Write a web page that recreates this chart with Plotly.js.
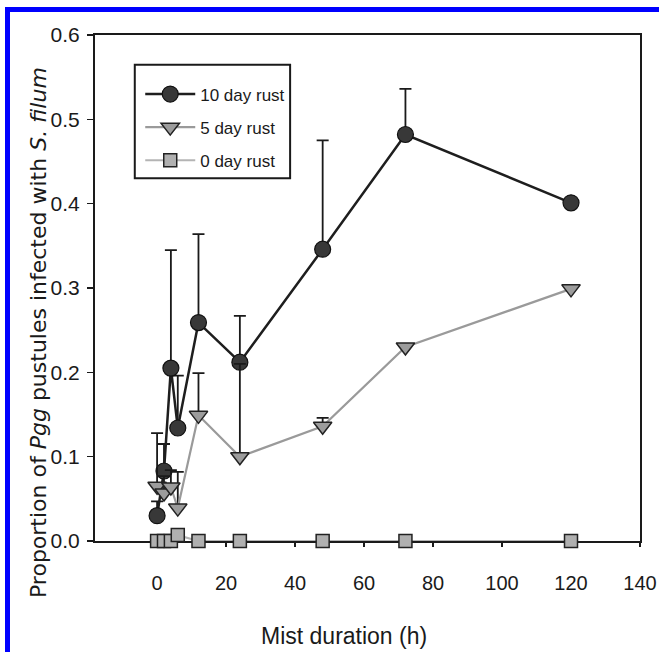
<!DOCTYPE html>
<html>
<head>
<meta charset="utf-8">
<script src="https://cdn.plot.ly/plotly-3.0.1.min.js"></script>
<style>
  html, body { margin: 0; padding: 0; background: #ffffff; }
  #wrap { position: relative; width: 659px; height: 652px; overflow: hidden; }
  #chart { position: absolute; left: 0; top: 0; width: 659px; height: 652px; }
  #frame { position: absolute; left: 5px; top: 7px; width: 654px; height: 645px;
           box-sizing: border-box; border-top: 5px solid #0000ff; border-left: 5px solid #0000ff;
           pointer-events: none; }
</style>
</head>
<body>
<div id="wrap">
  <div id="chart"></div>
  <div id="frame"></div>
</div>
<script>
// Mist duration (h)
var hours = [0, 2, 4, 6, 12, 24, 48, 72, 120];

// 10 day rust
var rust10 = [0.030, 0.083, 0.205, 0.134, 0.259, 0.212, 0.346, 0.482, 0.401];
var rust10Err = [0.017, 0.032, 0.140, 0.062, 0.105, 0.055, 0.129, 0.054, 0.000];

// 5 day rust
var rust5 = [0.065, 0.057, 0.064, 0.039, 0.149, 0.100, 0.136, 0.230, 0.299];
var rust5Err = [0.063, 0.020, 0.020, 0.043, 0.050, 0.110, 0.010, 0.000, 0.000];

// 0 day rust
var rust0 = [0.000, 0.000, 0.000, 0.007, 0.000, 0.000, 0.000, 0.000, 0.000];

var seriesNames = ["10 day rust", "5 day rust", "0 day rust"];
var xTicks = [0, 20, 40, 60, 80, 100, 120, 140];
var yTicks = [0, 0.1, 0.2, 0.3, 0.4, 0.5, 0.6];
var xTitle = "Mist duration (h)";
var yTitle = "Proportion of <i>Pgg</i> pustules infected with <i>S. filum</i>";

function zeros(n) { var a = []; for (var i = 0; i < n; i++) a.push(0); return a; }

var narrow = "Liberation Sans Narrow, Arial Narrow, Liberation Sans, Arial, sans-serif";

var traces = [
  {
    x: hours, y: rust10, name: seriesNames[0], type: "scatter", mode: "lines+markers",
    legendgroup: "a", cliponaxis: false,
    line: { color: "#1e1e1e", width: 2.5 },
    marker: { symbol: "circle", size: 16, color: "#383838", line: { color: "#111111", width: 1.2 } },
    error_y: { type: "data", symmetric: false, array: rust10Err, arrayminus: zeros(hours.length),
               color: "#1a1a1a", thickness: 1.8, width: 6 }
  },
  {
    x: hours, y: rust5, name: seriesNames[1], type: "scatter", mode: "lines+markers",
    legendgroup: "b", cliponaxis: false,
    line: { color: "#9a9a9a", width: 2.2 },
    marker: { symbol: "triangle-down", size: 16, color: "#9c9c9c", line: { color: "#222222", width: 1.5 } },
    error_y: { type: "data", symmetric: false, array: rust5Err, arrayminus: zeros(hours.length),
               color: "#1a1a1a", thickness: 1.8, width: 6 }
  },
  {
    x: hours, y: rust0, name: seriesNames[2], type: "scatter", mode: "lines+markers",
    legendgroup: "c", cliponaxis: false,
    line: { color: "#b4b4b4", width: 2.2 },
    marker: { symbol: "square", size: 13, color: "#b0b0b0", line: { color: "#222222", width: 1.5 } }
  }
];

var layout = {
  width: 659, height: 652,
  margin: { l: 95, r: 19, t: 35, b: 111, pad: 0 },
  paper_bgcolor: "#ffffff", plot_bgcolor: "#ffffff",
  showlegend: true,
  font: { family: narrow, color: "#1a1a1a", size: 20 },
  xaxis: {
    range: [-18, 140], tickvals: xTicks, ticktext: xTicks.map(String),
    showgrid: false, zeroline: false,
    showline: true, linecolor: "#1a1a1a", linewidth: 2, mirror: true,
    ticks: "outside", ticklen: 4, tickwidth: 1.5, tickcolor: "#1a1a1a",
    ticklabelstandoff: 19,
    tickfont: { family: narrow, size: 20, color: "#1a1a1a" },
    layer: "below traces",
    automargin: false
  },
  yaxis: {
    range: [0, 0.6], tickvals: yTicks, tickformat: ".1f",
    showgrid: false, zeroline: false,
    showline: true, linecolor: "#1a1a1a", linewidth: 2, mirror: true,
    ticks: "outside", ticklen: 6, tickwidth: 1.5, tickcolor: "#1a1a1a",
    ticklabelstandoff: 3,
    tickfont: { family: narrow, size: 21, color: "#1a1a1a" },
    layer: "below traces",
    automargin: false
  },
  annotations: [
    { text: yTitle, xref: "paper", yref: "paper", x: -0.1046, y: 0.413,
      xanchor: "center", yanchor: "middle", textangle: -90, showarrow: false,
      font: { family: "DejaVu Sans, sans-serif", size: 22, color: "#1a1a1a" } },
    { text: xTitle, xref: "paper", yref: "paper", x: 0.457, y: -0.188,
      xanchor: "center", yanchor: "middle", showarrow: false,
      font: { family: "Liberation Sans, Arial, sans-serif", size: 23, color: "#1a1a1a" } }
  ],
  legend: {
    x: 0.083, y: 0.918, xanchor: "left", yanchor: "top",
    bgcolor: "rgba(255,255,255,0)", borderwidth: 0,
    traceorder: "grouped", tracegroupgap: 8, itemwidth: 50,
    font: { family: narrow, size: 17, color: "#1a1a1a" }
  },
  shapes: [
    { type: "rect", xref: "paper", yref: "paper", x0: 0.073, x1: 0.358, y0: 0.717, y1: 0.941,
      line: { color: "#1a1a1a", width: 2 }, fillcolor: "rgba(0,0,0,0)", layer: "below" }
  ]
};

Plotly.newPlot("chart", traces, layout, { staticPlot: true, displayModeBar: false });
</script>
</body>
</html>
